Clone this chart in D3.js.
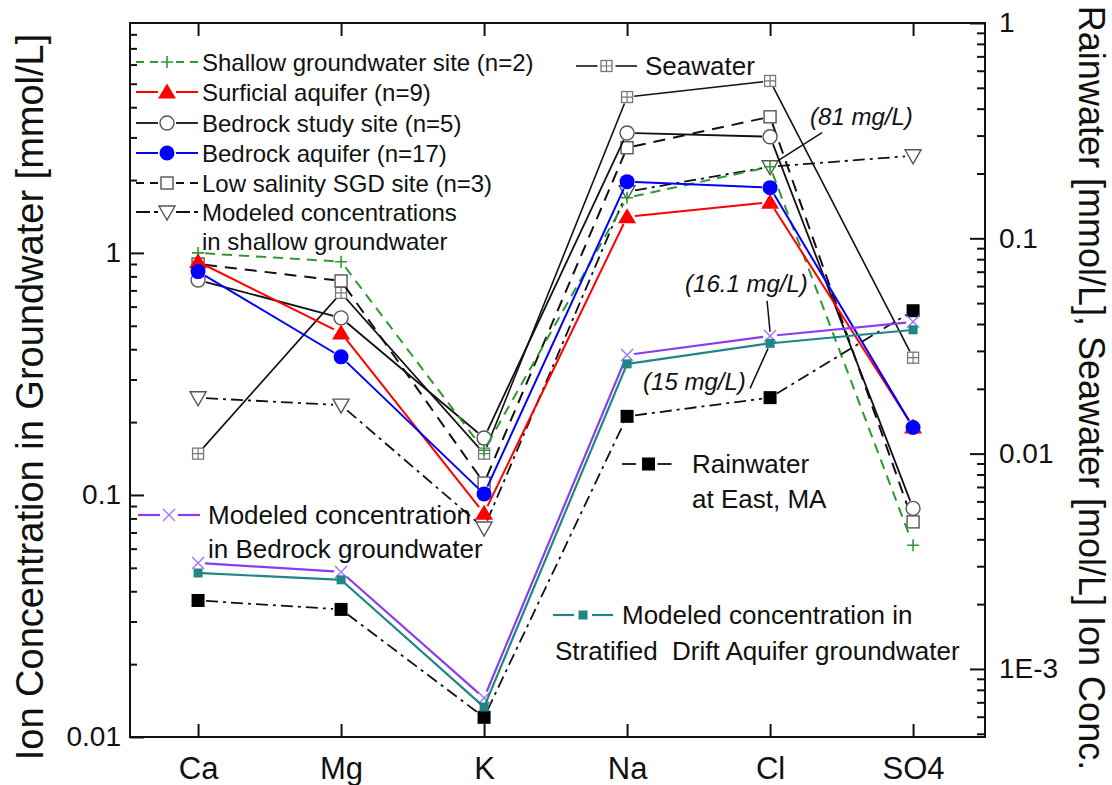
<!DOCTYPE html>
<html>
<head>
<meta charset="utf-8">
<script src="https://cdn.jsdelivr.net/npm/d3@7"></script>
<style>
  html, body { margin: 0; padding: 0; background: #fff; }
  svg { display: block; font-family: Arial, "Liberation Sans", sans-serif; }
  text { white-space: pre; }
</style>
</head>
<body>
<svg id="chart" width="1112" height="785"></svg>
<script>
// ---------------- data ----------------
const categories = ["Ca", "Mg", "K", "Na", "Cl", "SO4"];

// left axis: ion concentration in groundwater [mmol/L]
const shallowGW      = [1.0,   0.92,  0.153, 1.69, 2.27, 0.062];
const surficial      = [0.92,  0.467, 0.084, 1.41, 1.62, 0.191];
const bedrockStudy   = [0.773, 0.539, 0.172, 3.13, 3.02, 0.088];
const bedrockAquifer = [0.837, 0.372, 0.101, 1.97, 1.86, 0.190];
const lowSalinitySGD = [0.90,  0.766, 0.112, 2.72, 3.65, 0.0774];
const modeledShallow = [0.252, 0.235, 0.073, 1.79, 2.27, 2.52];
const modeledBedrock = [0.0524, 0.0481, 0.0145, 0.379, 0.454, 0.519];
const modeledDrift   = [0.0476, 0.0446, 0.0133, 0.348, 0.423, 0.481];

// right axis: rainwater [mmol/L], seawater [mol/L]
const seawater  = [0.0100, 0.0558, 0.0100, 0.453, 0.538, 0.0279];
const rainwater = [0.00208, 0.00189, 0.000596, 0.0149, 0.0182, 0.0461];

const leftTickValues  = [0.01, 0.1, 1];
const leftTickLabels  = ["0.01", "0.1", "1"];
const rightTickValues = [0.001, 0.01, 0.1, 1];
const rightTickLabels = ["1E-3", "0.01", "0.1", "1"];

// ---------------- layout ----------------
const W = 1112, H = 785;
const L = 130, R = 985, T = 23, B = 737;
const svg = d3.select("#chart");
svg.append("rect").attr("width", W).attr("height", H).attr("fill", "#fff");

const x = d3.scaleLinear().domain([-0.476, 5.503]).range([L, R]);
const yL = d3.scaleLog().domain([0.01, 8.91]).range([B, T]);
const yR = d3.scaleLog().domain([4.83e-4, 1]).range([B, T]);

function minorTicks(scale) {
  const [a, b] = scale.domain();
  const out = [];
  for (let e = Math.floor(Math.log10(a)); e <= Math.ceil(Math.log10(b)); e++) {
    for (let m = 2; m <= 9; m++) {
      const v = m * Math.pow(10, e);
      if (v >= a && v <= b) out.push(v);
    }
  }
  return out;
}

// ---------------- axes ----------------
const axisStyle = g => {
  g.select(".domain").remove();
  g.selectAll(".tick line").attr("stroke", "#111").attr("stroke-width", 2);
};

// left
svg.append("g").attr("transform", `translate(${L},0)`)
  .call(d3.axisLeft(yL).tickValues(minorTicks(yL)).tickSize(-7).tickFormat(""))
  .call(axisStyle);
svg.append("g").attr("transform", `translate(${L},0)`)
  .call(d3.axisLeft(yL).tickValues(leftTickValues).tickSize(-14).tickPadding(9)
    .tickFormat((d, i) => leftTickLabels[i]))
  .call(axisStyle)
  .call(g => g.selectAll("text").attr("font-size", 28).attr("fill", "#111")
    .attr("font-family", "Arial, 'Liberation Sans', sans-serif"));

// right
svg.append("g").attr("transform", `translate(${R},0)`)
  .call(d3.axisRight(yR).tickValues(minorTicks(yR)).tickSize(-8).tickFormat(""))
  .call(axisStyle);
svg.append("g").attr("transform", `translate(${R},0)`)
  .call(d3.axisRight(yR).tickValues(rightTickValues).tickSize(-15).tickPadding(14)
    .tickFormat((d, i) => rightTickLabels[i]))
  .call(axisStyle)
  .call(g => g.selectAll("text").attr("font-size", 28).attr("fill", "#111")
    .attr("font-family", "Arial, 'Liberation Sans', sans-serif"));

// bottom
svg.append("g").attr("transform", `translate(0,${B})`)
  .call(d3.axisBottom(x).tickValues(d3.range(categories.length)).tickSize(-13).tickPadding(20)
    .tickFormat(i => categories[i]))
  .call(axisStyle)
  .call(g => g.selectAll("text").attr("font-size", 31).attr("fill", "#111")
    .attr("font-family", "Arial, 'Liberation Sans', sans-serif"));

// top
svg.append("g").attr("transform", `translate(0,${T})`)
  .call(d3.axisTop(x).tickValues(d3.range(categories.length)).tickSize(-13).tickFormat(""))
  .call(axisStyle);

// frame
svg.append("rect").attr("x", L).attr("y", T).attr("width", R - L).attr("height", B - T)
  .attr("fill", "none").attr("stroke", "#111").attr("stroke-width", 2);

// axis titles
svg.append("text")
  .attr("transform", `translate(30,${(T + B) / 2 + 17}) rotate(-90)`)
  .attr("text-anchor", "middle").attr("dominant-baseline", "central")
  .attr("font-size", 38).attr("fill", "#111")
  .text("Ion Concentration in Groundwater [mmol/L]");
svg.append("text")
  .attr("transform", `translate(1091,${(T + B) / 2 + 8}) rotate(90)`)
  .attr("text-anchor", "middle").attr("dominant-baseline", "central")
  .attr("font-size", 36).attr("fill", "#111")
  .text("Rainwater [mmol/L], Seawater [mol/L] Ion Conc.");

// ---------------- markers ----------------
function marker(g, type, cx, cy) {
  const m = g.append("g").attr("transform", `translate(${cx},${cy})`);
  switch (type) {
    case "plus":
      m.append("path").attr("d", "M-6,0H6M0,-6V6").attr("stroke", "#2e9a2e").attr("stroke-width", 1.6).attr("fill", "none");
      break;
    case "triUp":
      m.append("path").attr("d", "M0,-8.5L9,6.5L-9,6.5Z").attr("fill", "#ff0000");
      break;
    case "circleOpen":
      m.append("circle").attr("r", 7).attr("fill", "#fff").attr("stroke", "#555").attr("stroke-width", 1.4);
      break;
    case "circleBlue":
      m.append("circle").attr("r", 7.5).attr("fill", "#0000ff");
      break;
    case "squareOpen":
      m.append("rect").attr("x", -6).attr("y", -6).attr("width", 12).attr("height", 12)
        .attr("fill", "#fff").attr("stroke", "#555").attr("stroke-width", 1.4);
      break;
    case "triDown":
      m.append("path").attr("d", "M-8,-6L8,-6L0,8Z").attr("fill", "#fff").attr("stroke", "#555").attr("stroke-width", 1.4);
      break;
    case "boxPlus":
      m.append("rect").attr("x", -5.5).attr("y", -5.5).attr("width", 11).attr("height", 11)
        .attr("fill", "#fff").attr("stroke", "#777").attr("stroke-width", 1.3);
      m.append("path").attr("d", "M-5.5,0H5.5M0,-5.5V5.5").attr("stroke", "#777").attr("stroke-width", 1.2);
      break;
    case "squareBlack":
      m.append("rect").attr("x", -6.5).attr("y", -6.5).attr("width", 13).attr("height", 13).attr("fill", "#000");
      break;
    case "cross":
      m.append("path").attr("d", "M-6,-6L6,6M-6,6L6,-6").attr("stroke", "#a070ff").attr("stroke-width", 1.4).attr("fill", "none");
      break;
    case "squareTeal":
      m.append("rect").attr("x", -4.5).attr("y", -4.5).attr("width", 9).attr("height", 9).attr("fill", "#1f8585");
      break;
  }
}

// ---------------- series ----------------
const series = [
  { name: "seawater", values: seawater, y: yR, color: "#111", dash: null, width: 1.6, marker: "boxPlus", gap: 7 },
  { name: "modeledShallow", values: modeledShallow, y: yL, color: "#111", dash: "12,5,3,5", width: 1.8, marker: "triDown", gap: 8 },
  { name: "sgd", values: lowSalinitySGD, y: yL, color: "#111", dash: "12,8", width: 2, marker: "squareOpen", gap: 7 },
  { name: "bedrockStudy", values: bedrockStudy, y: yL, color: "#111", dash: null, width: 1.8, marker: "circleOpen", gap: 8 },
  { name: "shallowGW", values: shallowGW, y: yL, color: "#2e9a2e", dash: "10,7", width: 2, marker: "plus", gap: 7 },
  { name: "surficial", values: surficial, y: yL, color: "#ff0000", dash: null, width: 2, marker: "triUp", gap: 8 },
  { name: "bedrockAquifer", values: bedrockAquifer, y: yL, color: "#0000ff", dash: null, width: 2, marker: "circleBlue", gap: 8 },
  { name: "rainwater", values: rainwater, y: yR, color: "#111", dash: "12,5,3,5", width: 1.8, marker: "squareBlack", gap: 8 },
  { name: "modeledBedrock", values: modeledBedrock, y: yL, color: "#8a3cf0", dash: null, width: 2.2, marker: "cross", gap: 7 },
  { name: "modeledDrift", values: modeledDrift, y: yL, color: "#1f8585", dash: null, width: 2.2, marker: "squareTeal", gap: 4 }
];

const plot = svg.append("g");
series.forEach(s => {
  const pts = s.values.map((v, i) => [x(i), s.y(v)]);
  const g = plot.append("g").attr("class", s.name);
  for (let i = 0; i < pts.length - 1; i++) {
    const [x1, y1] = pts[i], [x2, y2] = pts[i + 1];
    const len = Math.hypot(x2 - x1, y2 - y1);
    const ux = (x2 - x1) / len, uy = (y2 - y1) / len;
    const ln = g.append("line")
      .attr("x1", x1 + ux * s.gap).attr("y1", y1 + uy * s.gap)
      .attr("x2", x2 - ux * s.gap).attr("y2", y2 - uy * s.gap)
      .attr("stroke", s.color).attr("stroke-width", s.width);
    if (s.dash) ln.attr("stroke-dasharray", s.dash);
  }
  pts.forEach(p => marker(g, s.marker, p[0], p[1]));
});

// ---------------- legends ----------------
function legendSymbol(s, x1, x2, y) {
  const g = svg.append("g");
  const mid = (x1 + x2) / 2;
  [[x1, mid - 9], [mid + 9, x2]].forEach(([a, b]) => {
    const ln = g.append("line").attr("x1", a).attr("x2", b).attr("y1", y).attr("y2", y)
      .attr("stroke", s.color).attr("stroke-width", s.width);
    if (s.dash) ln.attr("stroke-dasharray", s.dash === "12,5,3,5" ? "14,4" : "8,6");
  });
  marker(g, s.marker, mid, y);
}
function legendText(str, tx, ty, size) {
  svg.append("text").attr("x", tx).attr("y", ty).attr("dominant-baseline", "central")
    .attr("font-size", size).attr("fill", "#111").text(str);
}
const byName = n => series.find(s => s.name === n);

const topLegend = [
  ["shallowGW", "Shallow groundwater site (n=2)"],
  ["surficial", "Surficial aquifer (n=9)"],
  ["bedrockStudy", "Bedrock study site (n=5)"],
  ["bedrockAquifer", "Bedrock aquifer (n=17)"],
  ["sgd", "Low salinity SGD site (n=3)"],
  ["modeledShallow", "Modeled concentrations"]
];
const legendRows = [62, 92, 123, 153, 183, 212];
topLegend.forEach(([n, label], i) => {
  legendSymbol(byName(n), 136, 198, legendRows[i]);
  legendText(label, 202, legendRows[i], 24);
});
legendText("in shallow groundwater", 202, 241, 24);

legendSymbol(byName("seawater"), 576, 637, 66);
legendText("Seawater", 645, 66, 26);

legendSymbol(byName("rainwater"), 622, 675, 464);
legendText("Rainwater", 692, 464, 26);
legendText("at East, MA", 692, 499, 26);

legendSymbol(byName("modeledBedrock"), 138, 200, 515);
legendText("Modeled concentration", 208, 515, 26);
legendText("in Bedrock groundwater", 208, 549, 26);

legendSymbol(byName("modeledDrift"), 553, 613, 615);
legendText("Modeled concentration in", 622, 615, 26);
legendText("Stratified  Drift Aquifer groundwater", 555, 651, 26);

// ---------------- annotations ----------------
function annotate(str, tx, ty, lx1, ly1, lx2, ly2) {
  svg.append("text").attr("x", tx).attr("y", ty).attr("dominant-baseline", "central")
    .attr("font-size", 24).attr("font-style", "italic").attr("fill", "#111").text(str);
  svg.append("line").attr("x1", lx1).attr("y1", ly1).attr("x2", lx2).attr("y2", ly2)
    .attr("stroke", "#111").attr("stroke-width", 1.5);
}
const clX = x(4);
annotate("(81 mg/L)", clX + 40, yL(modeledShallow[4]) - 50,
  clX + 52, yL(modeledShallow[4]) - 34, clX + 8, yL(modeledShallow[4]) - 6);
annotate("(16.1 mg/L)", clX - 85, yL(modeledBedrock[4]) - 52,
  clX - 3, yL(modeledBedrock[4]) - 35, clX, yL(modeledBedrock[4]) - 4);
annotate("(15 mg/L)", clX - 127, yL(modeledDrift[4]) + 38,
  clX - 20, yL(modeledDrift[4]) + 45, clX - 2, yL(modeledDrift[4]) + 5);
</script>
</body>
</html>
